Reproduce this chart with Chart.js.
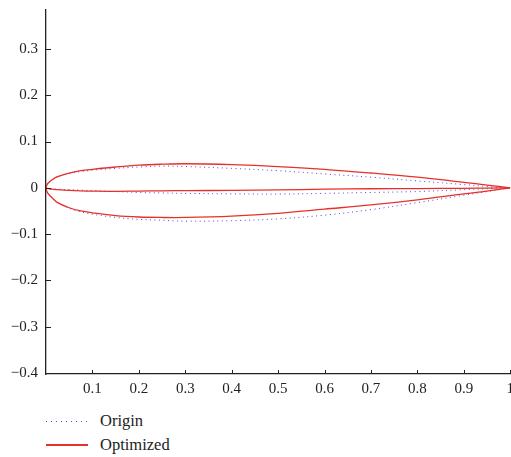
<!DOCTYPE html>
<html>
<head>
<meta charset="utf-8">
<script src="https://cdn.jsdelivr.net/npm/chart.js@4/dist/chart.umd.min.js"></script>
<style>
    body { margin: 0; background: #fff; font-family: "Liberation Serif", "DejaVu Serif", serif; overflow: hidden; }
    #wrap { position: relative; width: 511px; height: 457px; overflow: hidden; }
    #airfoil { position: absolute; left: 0; top: -7px; }
    .legend { position: absolute; left: 46px; font-size: 16.5px; color: #222; }
    .legend .row { display: flex; align-items: center; height: 24px; }
    .legend .swatch { width: 42px; height: 1px; margin-right: 12px; }
    .dotted { background-image: repeating-linear-gradient(to right, #4a4ad8 0 1px, transparent 1px 5px); height: 1px; }
    .solid { background: #e8302a; height: 1.5px !important; }
</style>
</head>
<body>
<div id="wrap">
    <canvas id="airfoil" width="520" height="407"></canvas>
    <div class="legend" style="top:409px">
        <div class="row"><div class="swatch dotted"></div><span>Origin</span></div>
        <div class="row"><div class="swatch solid"></div><span>Optimized</span></div>
    </div>
</div>
<script>
// chord stations (x/c)
const stations = [0, 0.0025, 0.005, 0.0125, 0.025, 0.05, 0.075, 0.1, 0.15, 0.2, 0.25, 0.3, 0.4, 0.5, 0.6, 0.7, 0.8, 0.9, 0.95, 1];

// optimized airfoil
const optUpper  = [0, 0.0075, 0.0105, 0.017, 0.024, 0.032, 0.037, 0.040, 0.045, 0.049, 0.051, 0.052, 0.050, 0.046, 0.040, 0.032, 0.023, 0.012, 0.006, 0];
const optLower  = [0, -0.009, -0.013, -0.021, -0.032, -0.043, -0.050, -0.054, -0.060, -0.063, -0.064, -0.064, -0.061, -0.055, -0.046, -0.037, -0.026, -0.013, -0.007, 0];
const optCamber = [0, -0.001, -0.0015, -0.003, -0.004, -0.0055, -0.0065, -0.007, -0.0075, -0.007, -0.0065, -0.006, -0.0055, -0.0045, -0.003, -0.002, -0.0015, -0.001, -0.0005, 0];

// original airfoil
const orgUpper  = [0, 0.0075, 0.0105, 0.017, 0.024, 0.031, 0.035, 0.038, 0.042, 0.045, 0.047, 0.046, 0.042, 0.037, 0.030, 0.023, 0.015, 0.007, 0.003, 0];
const orgLower  = [0, -0.009, -0.013, -0.021, -0.032, -0.044, -0.052, -0.057, -0.064, -0.068, -0.070, -0.072, -0.071, -0.067, -0.059, -0.047, -0.032, -0.016, -0.008, 0];
const orgCamber = [0, -0.001, -0.001, -0.002, -0.003, -0.004, -0.005, -0.006, -0.008, -0.010, -0.011, -0.012, -0.013, -0.0135, -0.012, -0.010, -0.008, -0.004, -0.002, 0];

const xTicks = [0.1, 0.2, 0.3, 0.4, 0.5, 0.6, 0.7, 0.8, 0.9, 1];
const yTicks = [-0.4, -0.3, -0.2, -0.1, 0, 0.1, 0.2, 0.3];

function pts(ys) {
    return stations.map((x, i) => ({ x: x, y: ys[i] }));
}

// trailing edge -> upper -> leading edge -> lower -> trailing edge
function contour(upper, lower) {
    const top = pts(upper).reverse();
    const bottom = pts(lower).slice(1);
    return top.concat(bottom);
}

function fmt(v) {
    const s = String(Math.round(v * 10) / 10);
    return s.replace('-', '\u2212');
}

const red = '#e8302a';
const blue = '#4a4ad8';

function optSet(data) {
    return { data: data, borderColor: red, borderWidth: 1.3, order: 0 };
}
function orgSet(data) {
    return { data: data, borderColor: blue, borderWidth: 1, borderDash: [1, 3.5], order: 1 };
}

// tick marks pointing into the plot
const innerTicks = {
    id: 'innerTicks',
    afterDraw(chart) {
        const ctx = chart.ctx;
        const area = chart.chartArea;
        const xs = chart.scales.x;
        const ys = chart.scales.y;
        ctx.save();
        ctx.strokeStyle = '#222';
        ctx.lineWidth = 1;
        ctx.beginPath();
        xTicks.forEach(v => {
            const px = Math.round(xs.getPixelForValue(v)) + 0.5;
            ctx.moveTo(px, area.bottom);
            ctx.lineTo(px, area.bottom - 4);
        });
        yTicks.forEach(v => {
            const py = Math.round(ys.getPixelForValue(v)) + 0.5;
            ctx.moveTo(area.left, py);
            ctx.lineTo(area.left + 5, py);
        });
        ctx.stroke();
        ctx.restore();
    }
};

new Chart(document.getElementById('airfoil'), {
    type: 'scatter',
    data: {
        datasets: [
            optSet(contour(optUpper, optLower)), optSet(pts(optCamber)),
            orgSet(contour(orgUpper, orgLower)), orgSet(pts(orgCamber))
        ]
    },
    options: {
        responsive: false,
        animation: false,
        showLine: true,
        elements: {
            point: { radius: 0 },
            line: { tension: 0.35, fill: false }
        },
        plugins: { legend: { display: false }, tooltip: { enabled: false } },
        scales: {
            x: {
                type: 'linear',
                min: 0,
                max: 1,
                afterBuildTicks: s => { s.ticks = xTicks.map(v => ({ value: v })); },
                afterFit: s => { s.height = 26; },
                grid: { display: false, drawTicks: false },
                border: { display: true, color: '#222', width: 1.3 },
                ticks: {
                    color: '#222',
                    padding: 6,
                    maxRotation: 0,
                    font: { family: 'Liberation Serif', size: 15 },
                    callback: v => fmt(v)
                }
            },
            y: {
                type: 'linear',
                min: -0.402,
                max: 0.384,
                afterBuildTicks: s => { s.ticks = yTicks.map(v => ({ value: v })); },
                afterFit: s => { s.width = 46; },
                grid: { display: false, drawTicks: false },
                border: { display: true, color: '#222', width: 1.3 },
                ticks: {
                    color: '#222',
                    padding: 8,
                    font: { family: 'Liberation Serif', size: 15 },
                    callback: v => fmt(v)
                }
            }
        }
    },
    plugins: [innerTicks]
});
</script>
</body>
</html>
